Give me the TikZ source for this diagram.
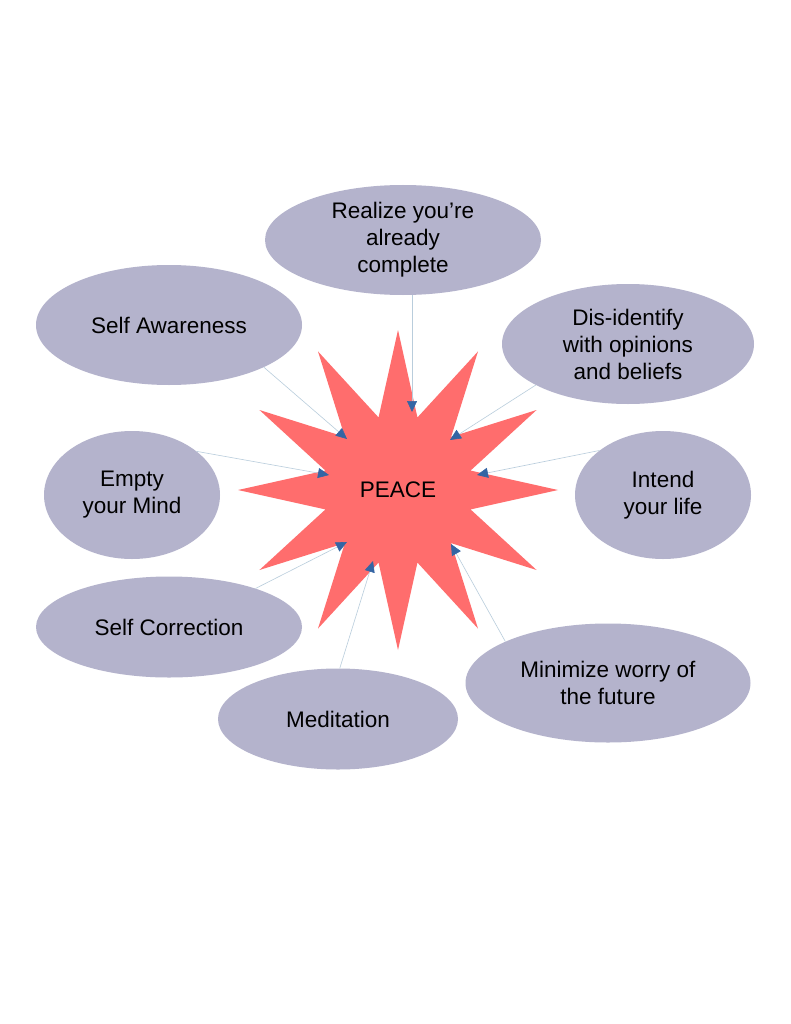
\documentclass[tikz,border=0pt]{standalone}
\usepackage{fontspec}
\setmainfont{Liberation Sans}
\usetikzlibrary{shapes.geometric,arrows.meta}
\definecolor{bubble}{RGB}{180,179,204}
\definecolor{starred}{RGB}{255,109,109}
\definecolor{arrowblue}{RGB}{52,101,164}
\definecolor{linkgray}{RGB}{185,205,220}
\tikzset{
  bubble/.style={ellipse, fill=bubble, draw=none, inner sep=-6pt, align=center,
    font=\fontsize{22.5pt}{27pt}\selectfont},
  link/.style={draw=linkgray, line width=0.6pt,
    -{Triangle[length=11pt,width=10pt,fill=arrowblue,color=arrowblue]}},
}
\begin{document}
\begin{tikzpicture}[x=1pt,y=-1pt]
\useasboundingbox[fill=white] (0,0) rectangle (791,1024);
% star
\node[star, star points=12, star point ratio=2.13, minimum size=320pt,
  fill=starred, draw=none, inner sep=0pt,
  font=\fontsize{22.5pt}{27pt}\selectfont] (peace) at (398,490) {PEACE};
% bubbles
\node[bubble, minimum width=276pt, minimum height=110pt] (real) at (403,240) {Realize you’re\\already\\complete};
\node[bubble, minimum width=266pt, minimum height=120pt] (aware) at (169,325) {Self Awareness};
\node[bubble, minimum width=252pt, minimum height=120pt] (dis) at (628,344) {Dis-identify\\with opinions\\and beliefs};
\node[bubble, minimum width=176pt, minimum height=128pt] (empty) at (132,495) {Empty\\your Mind};
\node[bubble, minimum width=176pt, minimum height=128pt] (intend) at (663,495) {Intend\\your life};
\node[bubble, minimum width=266pt, minimum height=101pt] (corr) at (169,627) {Self Correction};
\node[bubble, minimum width=240pt, minimum height=101pt] (medi) at (338,719) {Meditation};
\node[bubble, minimum width=285pt, minimum height=119pt] (mini) at (608,683) {Minimize worry of\\the future};
% arrow tips
\coordinate (t1) at (412,412);
\coordinate (t2) at (347,439);
\coordinate (t3) at (450,440);
\coordinate (t4) at (329,475);
\coordinate (t5) at (477,475);
\coordinate (t6) at (347,542);
\coordinate (t7) at (373,561);
\coordinate (t8) at (451,544);
% connectors
\draw[link] (real.south -| t1) -- (t1);
\draw[link] (aware.-24) -- (t2);
\draw[link] (dis.204) -- (t3);
\draw[link] (empty.34) -- (t4);
\draw[link] (intend.145) -- (t5);
\draw[link] (corr.24) -- (t6);
\draw[link] (medi.88) -- (t7);
\draw[link] (mini.158) -- (t8);
\end{tikzpicture}
\end{document}
